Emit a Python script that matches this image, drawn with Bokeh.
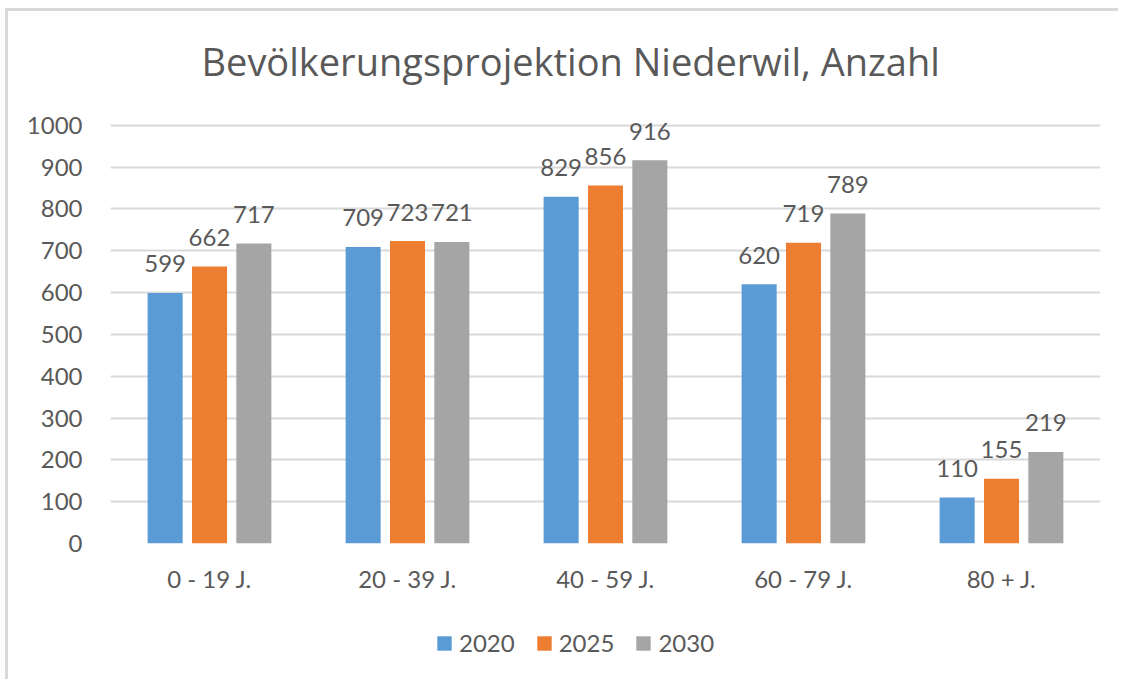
from bokeh.plotting import figure
from bokeh.layouts import column
from bokeh.models import (ColumnDataSource, FactorRange, Range1d, FixedTicker,
                          Legend, LegendItem, InlineStyleSheet)
from bokeh.transform import dodge
from bokeh.core.properties import value
from bokeh.embed import file_html
from bokeh.resources import INLINE

# ---- data ----
categories = ["0 - 19 J.", "20 - 39 J.", "40 - 59 J.", "60 - 79 J.", "80 + J."]
years = ["2020", "2025", "2030"]
v2020 = [599, 709, 829, 620, 110]
v2025 = [662, 723, 856, 719, 155]
v2030 = [717, 721, 916, 789, 219]
y_ticks = [0, 100, 200, 300, 400, 500, 600, 700, 800, 900, 1000]
title_text = "Bevölkerungsprojektion Niederwil, Anzahl"

colors = ["#5B9BD5", "#ED7D31", "#A5A5A5"]
FONT = "Lato"
TEXT = "#595959"
GRID = "#D9D9D9"

series = {"2020": v2020, "2025": v2025, "2030": v2030}
data = {"cat": categories}
for yr, vals in series.items():
    data["v" + yr] = vals
    data["l" + yr] = [str(v) for v in vals]
src = ColumnDataSource(data)

p = figure(x_range=FactorRange(*categories), y_range=Range1d(0, 1040),
           width=1110, height=590, output_backend="svg", toolbar_location=None,
           min_border_left=102, min_border_right=18, min_border_top=97,
           min_border_bottom=58)

p.title.text = title_text
p.title.align = "left"
p.title.offset = 91
p.title.standoff = 43
p.title.text_font = "Open Sans"
p.title.text_font_size = "38px"
p.title.text_font_style = "normal"
p.title.text_color = TEXT

p.outline_line_color = None
p.background_fill_color = "white"
p.border_fill_color = "white"

offsets = [-0.224, 0.0, 0.224]
for yr, off, col in zip(years, offsets, colors):
    p.vbar(x=dodge("cat", off, range=p.x_range), top="v" + yr, width=0.177,
           source=src, fill_color=col, line_color=None)
    p.text(x=dodge("cat", off, range=p.x_range), y="v" + yr, text="l" + yr,
           source=src, text_align="center", text_baseline="alphabetic",
           y_offset=-29, text_font=value(FONT), text_font_size="24px",
           text_color=TEXT)

# axes
p.yaxis.ticker = FixedTicker(ticks=y_ticks)
p.yaxis.axis_line_color = None
p.yaxis.major_tick_line_color = None
p.yaxis.minor_tick_line_color = None
p.yaxis.major_label_standoff = 22
p.yaxis.major_label_text_font = FONT
p.yaxis.major_label_text_font_size = "24px"
p.yaxis.major_label_text_color = TEXT

p.xaxis.axis_line_color = None
p.xaxis.major_tick_line_color = None
p.xaxis.major_label_standoff = 14
p.xaxis.major_label_text_font = FONT
p.xaxis.major_label_text_font_size = "24px"
p.xaxis.major_label_text_color = TEXT

p.xgrid.grid_line_color = None
p.ygrid.grid_line_color = GRID
p.ygrid.grid_line_width = 2

# ---- legend strip (same bars, scaled out of view; only the legend shows) ----
pl = figure(width=1110, height=78, output_backend="svg", toolbar_location=None,
            x_range=FactorRange(*categories), y_range=Range1d(2000, 3000),
            x_axis_location=None, y_axis_location=None,
            min_border_left=0, min_border_right=0, min_border_top=0,
            min_border_bottom=0)
pl.grid.visible = False
pl.outline_line_color = None
pl.border_fill_color = "white"
pl.background_fill_color = "white"
leg_renderers = []
for yr, off, col in zip(years, offsets, colors):
    leg_renderers.append(pl.vbar(x=dodge("cat", off, range=pl.x_range), top="v" + yr,
                                 width=0.177, source=src, fill_color=col, line_color=None))

legend = Legend(items=[LegendItem(label=yr, renderers=[r]) for yr, r in zip(years, leg_renderers)],
                orientation="horizontal", location=(325, 22),
                border_line_color=None, background_fill_alpha=0,
                padding=0, margin=0, spacing=20, label_standoff=6,
                glyph_width=18, glyph_height=18,
                label_text_font=FONT, label_text_font_size="24px",
                label_text_color=TEXT)
pl.add_layout(legend, "center")

layout = column(p, pl, spacing=0)
layout.stylesheets = [InlineStyleSheet(css=":host { border-left: 3px solid #D9D9D9; border-top: 3px solid #D9D9D9; margin-left: 5px; margin-top: 8px; }")]

open("out.html", "w").write(file_html(layout, INLINE))
